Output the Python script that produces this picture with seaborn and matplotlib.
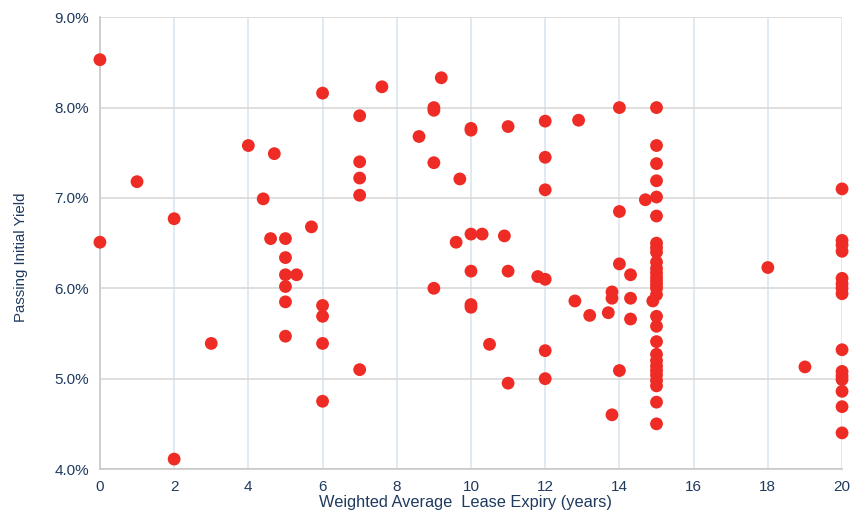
import numpy as np
import pandas as pd
import seaborn as sns
import matplotlib.pyplot as plt
from matplotlib.ticker import FuncFormatter, MultipleLocator

# lease expiry (years) and passing initial yield (%)
wale = [0, 0, 1, 2, 2, 3, 4, 4.4, 4.7, 4.6,
        5, 5, 5, 5, 5, 5, 5.3, 5.7,
        6, 6, 6, 6, 6,
        7, 7, 7, 7, 7, 7.6, 8.6,
        9, 9, 9, 9, 9.2, 9.7, 9.6,
        10, 10, 10, 10, 10, 10, 10.3, 10.5, 10.9,
        11, 11, 11, 11.8,
        12, 12, 12, 12, 12, 12,
        12.8, 12.9, 13.2, 13.7, 13.8, 13.8, 13.8,
        14, 14, 14, 14, 14.3, 14.3, 14.3, 14.7, 14.9,
        15, 15, 15, 15, 15, 15, 15, 15, 15, 15, 15, 15, 15, 15, 15, 15,
        15, 15, 15, 15, 15, 15, 15, 15, 15, 15, 15, 15, 15,
        18, 19,
        20, 20, 20, 20, 20, 20, 20, 20, 20, 20, 20, 20, 20, 20, 20]
yield_pct = [8.53, 6.51, 7.18, 6.77, 4.11, 5.39, 7.58, 6.99, 7.49, 6.55,
             6.55, 6.34, 6.15, 6.02, 5.85, 5.47, 6.15, 6.68,
             8.16, 5.81, 5.69, 5.39, 4.75,
             7.91, 7.40, 7.22, 7.03, 5.10, 8.23, 7.68,
             8.00, 7.97, 7.39, 6.00, 8.33, 7.21, 6.51,
             7.77, 7.75, 6.60, 6.19, 5.82, 5.79, 6.60, 5.38, 6.58,
             7.79, 6.19, 4.95, 6.13,
             7.85, 7.45, 7.09, 6.10, 5.31, 5.00,
             5.86, 7.86, 5.70, 5.73, 5.96, 5.89, 4.60,
             8.00, 6.85, 6.27, 5.09, 6.15, 5.89, 5.66, 6.98, 5.86,
             8.00, 7.58, 7.38, 7.19, 7.01, 6.80, 6.50, 6.45, 6.40, 6.29, 6.22, 6.17, 6.12, 6.08, 6.04, 6.00,
             5.93, 5.69, 5.58, 5.41, 5.27, 5.20, 5.14, 5.09, 5.04, 4.98, 4.92, 4.74, 4.50,
             6.23, 5.13,
             7.10, 6.53, 6.48, 6.41, 6.11, 6.05, 6.00, 5.94, 5.32, 5.08, 5.03, 4.99, 4.86, 4.69, 4.40]

df = pd.DataFrame({"wale": wale, "yield": yield_pct})

sns.set_style("white")
plt.rcParams['font.family'] = ['Liberation Sans', 'DejaVu Sans']

navy = "#1f3a5f"
fig = plt.figure(figsize=(8.54, 5.14), dpi=100)
ax = fig.add_axes([0.117, 0.0875, 0.869, 0.879])

sns.scatterplot(data=df, x="wale", y="yield", ax=ax, color="#ee2b24",
                s=85, edgecolor="none", linewidth=0, zorder=3)

ax.set_xlim(0, 20)
ax.set_ylim(4.0, 9.0)
ax.xaxis.set_major_locator(MultipleLocator(2))
ax.yaxis.set_major_locator(MultipleLocator(1))
ax.yaxis.set_major_formatter(FuncFormatter(lambda v, p: f"{v:.1f}%"))

ax.grid(axis="x", color="#dbe5ef", linewidth=1.2)
ax.grid(axis="y", color="#d9d9d9", linewidth=1.2)
ax.set_axisbelow(True)
for side in ["top", "right"]:
    ax.spines[side].set_visible(False)
for side in ["left", "bottom"]:
    ax.spines[side].set_color("#c8c8c8")
    ax.spines[side].set_linewidth(1.2)

ax.tick_params(axis="both", length=0, labelsize=11, colors=navy, pad=8)
ax.set_xlabel("Weighted Average  Lease Expiry (years)", fontsize=11.8, color=navy)
ax.xaxis.set_label_coords(0.492, -0.058)
ax.set_ylabel("Passing Initial Yield", fontsize=10.8, color=navy)
ax.yaxis.set_label_coords(-0.097, 0.468)

for lbl in ax.get_xticklabels() + ax.get_yticklabels():
    lbl.set_clip_on(False)
for c in ax.collections:
    c.set_clip_on(False)

fig.savefig("out.png", dpi=100, facecolor="white")
